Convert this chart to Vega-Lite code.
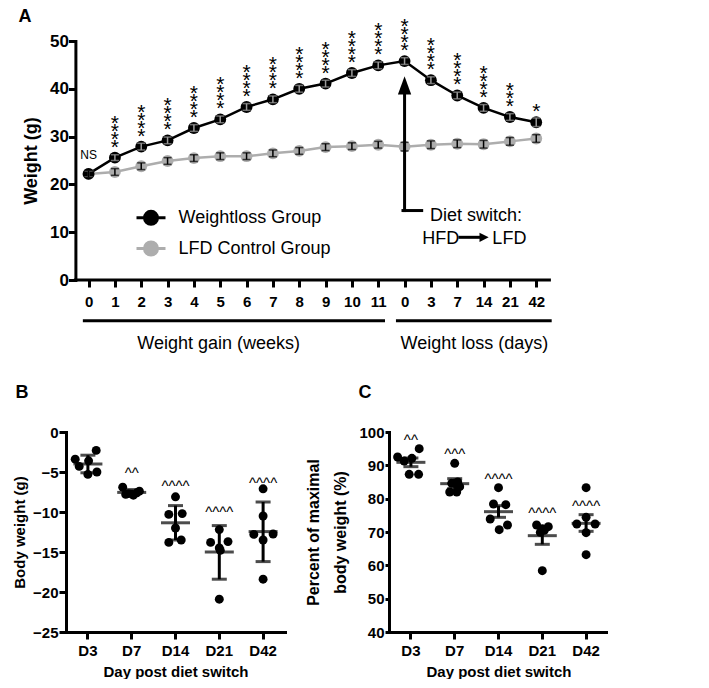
{
  "$schema": "https://vega.github.io/schema/vega-lite/v6.json",
  "background": "white",
  "padding": {"left": 12, "top": 8, "right": 0, "bottom": 0},
  "config": {
    "font": "Liberation Sans",
    "view": {"stroke": null},
    "axis": {"domainColor": "black", "domainWidth": 3, "domainCap": "square", "tickColor": "black", "tickWidth": 3, "tickSize": 7, "labelColor": "black", "titleColor": "black", "labelFont": "Liberation Sans", "titleFont": "Liberation Sans", "labelFontWeight": "bold", "titleFontWeight": "bold", "grid": false, "labelOverlap": false, "labelFlush": false},
    "title": {"font": "Liberation Sans", "fontSize": 18, "fontWeight": "bold", "anchor": "start", "frame": "group", "color": "black", "offset": 0},
    "text": {"font": "Liberation Sans", "color": "black"}
  },
  "datasets": {
    "weights": [
      {"group": "LFD Control Group", "t": 0, "w": 22.2, "lo": 21.5, "hi": 22.9},
      {"group": "LFD Control Group", "t": 1, "w": 22.6, "lo": 21.9, "hi": 23.3},
      {"group": "LFD Control Group", "t": 2, "w": 23.8, "lo": 23.1, "hi": 24.5},
      {"group": "LFD Control Group", "t": 3, "w": 24.9, "lo": 24.2, "hi": 25.6},
      {"group": "LFD Control Group", "t": 4, "w": 25.5, "lo": 24.8, "hi": 26.2},
      {"group": "LFD Control Group", "t": 5, "w": 25.9, "lo": 25.2, "hi": 26.6},
      {"group": "LFD Control Group", "t": 6, "w": 25.9, "lo": 25.2, "hi": 26.6},
      {"group": "LFD Control Group", "t": 7, "w": 26.5, "lo": 25.8, "hi": 27.2},
      {"group": "LFD Control Group", "t": 8, "w": 27.0, "lo": 26.3, "hi": 27.7},
      {"group": "LFD Control Group", "t": 9, "w": 27.8, "lo": 27.1, "hi": 28.5},
      {"group": "LFD Control Group", "t": 10, "w": 28.0, "lo": 27.3, "hi": 28.7},
      {"group": "LFD Control Group", "t": 11, "w": 28.3, "lo": 27.6, "hi": 29.0},
      {"group": "LFD Control Group", "t": 12, "w": 27.9, "lo": 27.0, "hi": 28.8},
      {"group": "LFD Control Group", "t": 13, "w": 28.3, "lo": 27.5, "hi": 29.1},
      {"group": "LFD Control Group", "t": 14, "w": 28.5, "lo": 27.7, "hi": 29.3},
      {"group": "LFD Control Group", "t": 15, "w": 28.4, "lo": 27.6, "hi": 29.2},
      {"group": "LFD Control Group", "t": 16, "w": 29.0, "lo": 28.2, "hi": 29.8},
      {"group": "LFD Control Group", "t": 17, "w": 29.6, "lo": 28.8, "hi": 30.4},
      {"group": "Weightloss Group", "t": 0, "w": 22.2, "lo": 21.6, "hi": 22.8, "sig": "NS"},
      {"group": "Weightloss Group", "t": 1, "w": 25.6, "lo": 25.0, "hi": 26.2, "sig": "*\n*\n*\n*"},
      {"group": "Weightloss Group", "t": 2, "w": 27.9, "lo": 27.2, "hi": 28.6, "sig": "*\n*\n*\n*"},
      {"group": "Weightloss Group", "t": 3, "w": 29.2, "lo": 28.5, "hi": 29.9, "sig": "*\n*\n*\n*"},
      {"group": "Weightloss Group", "t": 4, "w": 31.8, "lo": 31.1, "hi": 32.5, "sig": "*\n*\n*\n*"},
      {"group": "Weightloss Group", "t": 5, "w": 33.6, "lo": 32.9, "hi": 34.3, "sig": "*\n*\n*\n*"},
      {"group": "Weightloss Group", "t": 6, "w": 36.2, "lo": 35.5, "hi": 36.9, "sig": "*\n*\n*\n*"},
      {"group": "Weightloss Group", "t": 7, "w": 37.8, "lo": 37.1, "hi": 38.5, "sig": "*\n*\n*\n*"},
      {"group": "Weightloss Group", "t": 8, "w": 40.0, "lo": 39.3, "hi": 40.7, "sig": "*\n*\n*\n*"},
      {"group": "Weightloss Group", "t": 9, "w": 41.1, "lo": 40.4, "hi": 41.8, "sig": "*\n*\n*\n*"},
      {"group": "Weightloss Group", "t": 10, "w": 43.3, "lo": 42.6, "hi": 44.0, "sig": "*\n*\n*\n*"},
      {"group": "Weightloss Group", "t": 11, "w": 44.9, "lo": 44.2, "hi": 45.6, "sig": "*\n*\n*\n*"},
      {"group": "Weightloss Group", "t": 12, "w": 45.8, "lo": 45.1, "hi": 46.5, "sig": "*\n*\n*\n*"},
      {"group": "Weightloss Group", "t": 13, "w": 41.8, "lo": 41.1, "hi": 42.5, "sig": "*\n*\n*\n*"},
      {"group": "Weightloss Group", "t": 14, "w": 38.6, "lo": 37.9, "hi": 39.3, "sig": "*\n*\n*\n*"},
      {"group": "Weightloss Group", "t": 15, "w": 36.0, "lo": 35.3, "hi": 36.7, "sig": "*\n*\n*\n*"},
      {"group": "Weightloss Group", "t": 16, "w": 34.1, "lo": 33.4, "hi": 34.8, "sig": "*\n*\n*"},
      {"group": "Weightloss Group", "t": 17, "w": 33.0, "lo": 32.1, "hi": 33.9, "sig": "*"}
    ],
    "segs": [
      {"t": -0.5, "t2": 17.5, "w": 0, "w2": 0},
      {"t": 12, "t2": 12, "w": 14.53, "w2": 39.5},
      {"t": 11.94, "t2": 12.65, "w": 14.53, "w2": 14.53},
      {"t": 14.1, "t2": 14.9, "w": 8.93, "w2": 8.93},
      {"t": -0.16, "t2": 11.2, "w": -8.53, "w2": -8.53},
      {"t": 11.73, "t2": 17.53, "w": -8.53, "w2": -8.53}
    ],
    "heads": [
      {"t": 12, "w": 40.7, "dir": "up"},
      {"t": 15.02, "w": 8.93, "dir": "right"}
    ],
    "notes": [
      {"t": 14.71, "w": 12.43, "label": "Diet switch:"},
      {"t": 13.37, "w": 7.55, "label": "HFD"},
      {"t": 15.98, "w": 7.55, "label": "LFD"},
      {"t": 4.94, "w": -14.34, "label": "Weight gain (weeks)"},
      {"t": 14.65, "w": -14.34, "label": "Weight loss (days)"}
    ],
    "bodyB": [
      {"day": "D3", "v": -3.4, "off": -1.27}, {"day": "D3", "v": -4.3, "off": -0.87}, {"day": "D3", "v": -3.6, "off": 0.07},
      {"day": "D3", "v": -2.3, "off": 0.83}, {"day": "D3", "v": -5.3, "off": 0}, {"day": "D3", "v": -5.0, "off": 0.9},
      {"day": "D7", "v": -6.9, "off": -0.9}, {"day": "D7", "v": -7.7, "off": -0.33}, {"day": "D7", "v": -7.9, "off": 0.17},
      {"day": "D7", "v": -7.4, "off": 0.77}, {"day": "D7", "v": -7.6, "off": 0.5}, {"day": "D7", "v": -7.8, "off": -0.6},
      {"day": "D14", "v": -8.1, "off": 0}, {"day": "D14", "v": -10.3, "off": -0.67}, {"day": "D14", "v": -10.2, "off": 0.67},
      {"day": "D14", "v": -12.0, "off": 0}, {"day": "D14", "v": -13.8, "off": -0.67}, {"day": "D14", "v": -13.5, "off": 0.57},
      {"day": "D21", "v": -12.2, "off": 0}, {"day": "D21", "v": -13.8, "off": -0.87}, {"day": "D21", "v": -13.7, "off": 0.87},
      {"day": "D21", "v": -14.5, "off": 0}, {"day": "D21", "v": -14.8, "off": 0.1}, {"day": "D21", "v": -20.9, "off": 0},
      {"day": "D42", "v": -7.1, "off": 0}, {"day": "D42", "v": -10.5, "off": 0}, {"day": "D42", "v": -12.8, "off": -0.93},
      {"day": "D42", "v": -13.5, "off": 0}, {"day": "D42", "v": -12.75, "off": 1.0}, {"day": "D42", "v": -18.4, "off": 0}
    ],
    "sumB": [
      {"day": "D3", "mean": -4.0, "lo": -5.1, "hi": -2.9},
      {"day": "D7", "mean": -7.55, "lo": -7.9, "hi": -7.2},
      {"day": "D14", "mean": -11.35, "lo": -13.5, "hi": -9.2},
      {"day": "D21", "mean": -15.0, "lo": -18.4, "hi": -11.7},
      {"day": "D42", "mean": -12.45, "lo": -16.2, "hi": -8.75}
    ],
    "capB": [
      {"day": "D7", "v": -4.8, "text": "^^"},
      {"day": "D14", "v": -6.4, "text": "^^^^"},
      {"day": "D21", "v": -9.6, "text": "^^^^"},
      {"day": "D42", "v": -6.0, "text": "^^^^"}
    ],
    "pctC": [
      {"day": "D3", "v": 92.5, "off": -1.33}, {"day": "D3", "v": 91.3, "off": -0.67}, {"day": "D3", "v": 92.1, "off": 0.1},
      {"day": "D3", "v": 95.0, "off": 0.83}, {"day": "D3", "v": 87.3, "off": -0.17}, {"day": "D3", "v": 87.3, "off": 0.77},
      {"day": "D7", "v": 90.6, "off": 0}, {"day": "D7", "v": 85.0, "off": 0.3}, {"day": "D7", "v": 84.6, "off": -0.3},
      {"day": "D7", "v": 83.6, "off": 0.5}, {"day": "D7", "v": 82.0, "off": -0.5}, {"day": "D7", "v": 82.0, "off": 0.2},
      {"day": "D14", "v": 83.3, "off": 0}, {"day": "D14", "v": 78.4, "off": -0.5}, {"day": "D14", "v": 78.2, "off": 0.73},
      {"day": "D14", "v": 73.9, "off": -0.83}, {"day": "D14", "v": 72.1, "off": 0.9}, {"day": "D14", "v": 70.7, "off": 0.07},
      {"day": "D21", "v": 72.1, "off": -0.57}, {"day": "D21", "v": 71.6, "off": 0.6}, {"day": "D21", "v": 71.0, "off": 0},
      {"day": "D21", "v": 70.5, "off": 0.2}, {"day": "D21", "v": 69.9, "off": -0.2}, {"day": "D21", "v": 58.4, "off": 0},
      {"day": "D42", "v": 83.3, "off": 0}, {"day": "D42", "v": 74.4, "off": 0}, {"day": "D42", "v": 72.4, "off": -0.93},
      {"day": "D42", "v": 72.4, "off": 0.9}, {"day": "D42", "v": 69.8, "off": 0}, {"day": "D42", "v": 63.2, "off": 0}
    ],
    "sumC": [
      {"day": "D3", "mean": 90.9, "lo": 89.6, "hi": 92.2},
      {"day": "D7", "mean": 84.5, "lo": 83.0, "hi": 86.0},
      {"day": "D14", "mean": 76.1, "lo": 74.4, "hi": 77.9},
      {"day": "D21", "mean": 68.9, "lo": 66.3, "hi": 71.5},
      {"day": "D42", "mean": 72.6, "lo": 70.2, "hi": 75.2}
    ],
    "capC": [
      {"day": "D3", "v": 98.6, "text": "^^"},
      {"day": "D7", "v": 94.3, "text": "^^^"},
      {"day": "D14", "v": 86.8, "text": "^^^^"},
      {"day": "D21", "v": 76.7, "text": "^^^^"},
      {"day": "D42", "v": 78.7, "text": "^^^^"}
    ]
  },
  "spacing": 152,
  "bounds": "flush",
  "vconcat": [
    {
      "width": 483.4,
      "height": 239,
      "title": {"text": "A", "dx": -47.4, "dy": 14},
      "data": {"name": "weights"},
      "layer": [
        {
          "mark": {"type": "line", "strokeWidth": 2.5},
          "encoding": {
            "x": {"field": "t", "type": "quantitative", "scale": {"domain": [-0.857, 17.5], "nice": false, "zero": false},
                  "axis": {"values": [0,1,2,3,4,5,6,7,8,9,10,11,12,13,14,15,16,17], "tickCount": 18, "labelExpr": "['0','1','2','3','4','5','6','7','8','9','10','11','0','3','7','14','21','42'][datum.value]", "title": null, "labelFontSize": 15, "labelPadding": 7, "labelFlush": false, "labelOverlap": false, "domain": false}},
            "y": {"field": "w", "type": "quantitative", "title": "Weight (g)", "scale": {"domain": [0, 50], "nice": false},
                  "axis": {"values": [0,10,20,30,40,50], "title": "Weight (g)", "labelFontSize": 17, "titleFontSize": 18, "labelPadding": 0, "titlePadding": 9, "offset": -9.4, "labelOverlap": false}},
            "color": {"field": "group", "type": "nominal", "scale": {"domain": ["Weightloss Group", "LFD Control Group"], "range": ["#000000", "#adadad"]},
                      "legend": {"orient": "none", "legendX": 69, "legendY": 160.8, "title": null, "padding": 0, "symbolType": "M-1,0H1M0.45,0A0.45,0.45,0,1,1,-0.45,0A0.45,0.45,0,1,1,0.45,0Z", "symbolSize": 841, "symbolStrokeWidth": 3, "labelFontSize": 18, "labelFont": "Liberation Sans", "labelColor": "black", "labelOffset": 11.5, "rowPadding": 1.7, "labelFontWeight": "normal", "symbolOpacity": 1,
                                 "encode": {"symbols": {"update": {"fill": {"scale": "color", "field": "value"}, "stroke": {"scale": "color", "field": "value"}}}}}}
          }
        },
        {
          "mark": {"type": "point", "filled": true, "size": 140, "opacity": 1},
          "encoding": {
            "x": {"field": "t", "type": "quantitative", "scale": {"domain": [-0.857, 17.5], "nice": false, "zero": false},
                  "axis": {"values": [0,1,2,3,4,5,6,7,8,9,10,11,12,13,14,15,16,17], "tickCount": 18, "labelExpr": "['0','1','2','3','4','5','6','7','8','9','10','11','0','3','7','14','21','42'][datum.value]", "title": null, "labelFontSize": 15, "labelPadding": 7, "labelFlush": false, "labelOverlap": false, "domain": false}},
            "y": {"field": "w", "type": "quantitative", "title": "Weight (g)", "scale": {"domain": [0, 50], "nice": false},
                  "axis": {"values": [0,10,20,30,40,50], "title": "Weight (g)", "labelFontSize": 17, "titleFontSize": 18, "labelPadding": 0, "titlePadding": 9, "offset": -9.4, "labelOverlap": false}},
            "color": {"field": "group", "type": "nominal", "scale": {"domain": ["Weightloss Group", "LFD Control Group"], "range": ["#000000", "#adadad"]},
                      "legend": {"orient": "none", "legendX": 69, "legendY": 160.8, "title": null, "padding": 0, "symbolType": "M-1,0H1M0.45,0A0.45,0.45,0,1,1,-0.45,0A0.45,0.45,0,1,1,0.45,0Z", "symbolSize": 841, "symbolStrokeWidth": 3, "labelFontSize": 18, "labelFont": "Liberation Sans", "labelColor": "black", "labelOffset": 11.5, "rowPadding": 1.7, "labelFontWeight": "normal", "symbolOpacity": 1,
                                 "encode": {"symbols": {"update": {"fill": {"scale": "color", "field": "value"}, "stroke": {"scale": "color", "field": "value"}}}}}}
          }
        },
        {
          "transform": [{"filter": "datum.group === 'Weightloss Group'"}],
          "mark": {"type": "errorbar", "color": "#9a9a9a", "thickness": 1.5, "ticks": {"size": 8, "thickness": 1.5}},
          "encoding": {
            "x": {"field": "t", "type": "quantitative", "scale": {"domain": [-0.857, 17.5], "nice": false, "zero": false},
                  "axis": {"values": [0,1,2,3,4,5,6,7,8,9,10,11,12,13,14,15,16,17], "tickCount": 18, "labelExpr": "['0','1','2','3','4','5','6','7','8','9','10','11','0','3','7','14','21','42'][datum.value]", "title": null, "labelFontSize": 15, "labelPadding": 7, "labelFlush": false, "labelOverlap": false, "domain": false}},
            "y": {"field": "lo", "type": "quantitative", "title": "Weight (g)", "scale": {"domain": [0, 50], "nice": false},
                  "axis": {"values": [0,10,20,30,40,50], "title": "Weight (g)", "labelFontSize": 17, "titleFontSize": 18, "labelPadding": 0, "titlePadding": 9, "offset": -9.4, "labelOverlap": false}},
            "y2": {"field": "hi"}
          }
        },
        {
          "transform": [{"filter": "datum.group === 'LFD Control Group'"}],
          "mark": {"type": "errorbar", "color": "#000000", "thickness": 1.5, "ticks": {"size": 8, "thickness": 1.5}},
          "encoding": {
            "x": {"field": "t", "type": "quantitative", "scale": {"domain": [-0.857, 17.5], "nice": false, "zero": false},
                  "axis": {"values": [0,1,2,3,4,5,6,7,8,9,10,11,12,13,14,15,16,17], "tickCount": 18, "labelExpr": "['0','1','2','3','4','5','6','7','8','9','10','11','0','3','7','14','21','42'][datum.value]", "title": null, "labelFontSize": 15, "labelPadding": 7, "labelFlush": false, "labelOverlap": false, "domain": false}},
            "y": {"field": "lo", "type": "quantitative", "title": "Weight (g)", "scale": {"domain": [0, 50], "nice": false},
                  "axis": {"values": [0,10,20,30,40,50], "title": "Weight (g)", "labelFontSize": 17, "titleFontSize": 18, "labelPadding": 0, "titlePadding": 9, "offset": -9.4, "labelOverlap": false}},
            "y2": {"field": "hi"}
          }
        },
        {
          "transform": [{"filter": "datum.sig === '*\\n*\\n*\\n*'"}],
          "mark": {"type": "text", "fontSize": 21, "baseline": "bottom", "lineBreak": "\n", "lineHeight": 8, "dy": -24},
          "encoding": {
            "x": {"field": "t", "type": "quantitative"},
            "y": {"field": "w", "type": "quantitative", "title": "Weight (g)"},
            "text": {"field": "sig"}
          }
        },
        {
          "transform": [{"filter": "datum.sig === '*\\n*\\n*'"}],
          "mark": {"type": "text", "fontSize": 21, "baseline": "bottom", "lineBreak": "\n", "lineHeight": 8, "dy": -16},
          "encoding": {
            "x": {"field": "t", "type": "quantitative"},
            "y": {"field": "w", "type": "quantitative", "title": "Weight (g)"},
            "text": {"field": "sig"}
          }
        },
        {
          "transform": [{"filter": "datum.sig === '*'"}],
          "mark": {"type": "text", "fontSize": 21, "baseline": "bottom", "dy": 0},
          "encoding": {
            "x": {"field": "t", "type": "quantitative"},
            "y": {"field": "w", "type": "quantitative", "title": "Weight (g)"},
            "text": {"field": "sig"}
          }
        },
        {
          "transform": [{"filter": "datum.sig === 'NS'"}],
          "mark": {"type": "text", "fontSize": 12, "baseline": "middle", "dy": -19},
          "encoding": {
            "x": {"field": "t", "type": "quantitative"},
            "y": {"field": "w", "type": "quantitative", "title": "Weight (g)"},
            "text": {"field": "sig"}
          }
        },
        {
          "data": {"name": "segs"},
          "mark": {"type": "rule", "strokeWidth": 3, "color": "black", "strokeCap": "square"},
          "encoding": {
            "x": {"field": "t", "type": "quantitative"},
            "x2": {"field": "t2"},
            "y": {"field": "w", "type": "quantitative", "title": "Weight (g)"},
            "y2": {"field": "w2"}
          }
        },
        {
          "data": {"name": "heads"},
          "mark": {"type": "point", "filled": true, "size": 335, "color": "black", "opacity": 1, "strokeWidth": 0},
          "encoding": {
            "x": {"field": "t", "type": "quantitative"},
            "y": {"field": "w", "type": "quantitative", "title": "Weight (g)"},
            "shape": {"field": "dir", "type": "nominal", "scale": {"domain": ["up", "right"], "range": ["M0,-1L0.727,1L-0.727,1Z", "M0.5,0L-0.5,-0.5L-0.5,0.5Z"]}, "legend": null}
          }
        },
        {
          "data": {"name": "notes"},
          "mark": {"type": "text", "fontSize": 18, "align": "center", "baseline": "alphabetic"},
          "encoding": {
            "x": {"field": "t", "type": "quantitative"},
            "y": {"field": "w", "type": "quantitative", "title": "Weight (g)"},
            "text": {"field": "label"}
          }
        }
      ]
    },
    {
      "spacing": 104,
      "bounds": "flush",
      "hconcat": [
        {
          "width": 219,
          "height": 200,
          "title": {"text": "B", "dx": -50.4, "dy": -19},
          "layer": [
            {
              "data": {"name": "bodyB"},
              "mark": {"type": "point", "filled": true, "size": 80, "color": "black", "opacity": 1},
              "encoding": {
                "x": {"field": "day", "type": "nominal", "sort": ["D3", "D7", "D14", "D21", "D42"], "scale": {"type": "band", "paddingInner": 0, "paddingOuter": 0},
                      "axis": {"title": "Day post diet switch", "labelAngle": 0, "labelFontSize": 15, "titleFontSize": 15, "labelPadding": 4, "titlePadding": 6}},
                "xOffset": {"field": "off", "type": "quantitative", "scale": {"domain": [-2.19, 2.19], "nice": false, "zero": false}},
                "y": {"field": "v", "type": "quantitative", "title": "Body weight (g)", "scale": {"domain": [-25, 0], "nice": false},
                      "axis": {"values": [-25, -20, -15, -10, -5, 0], "tickCount": 6, "title": "Body weight (g)", "labelFontSize": 15, "titleFontSize": 15, "labelPadding": 1, "titlePadding": 5.5, "labelOverlap": false}}
              }
            },
            {
              "data": {"name": "sumB"},
              "mark": {"type": "tick", "size": 29, "thickness": 3, "color": "black", "orient": "horizontal"},
              "encoding": {
                "x": {"field": "day", "type": "nominal", "sort": ["D3", "D7", "D14", "D21", "D42"], "title": "Day post diet switch"},
                "y": {"field": "mean", "type": "quantitative", "title": "Body weight (g)"}
              }
            },
            {
              "data": {"name": "sumB"},
              "mark": {"type": "errorbar", "color": "black", "thickness": 3, "ticks": {"size": 15, "thickness": 3}},
              "encoding": {
                "x": {"field": "day", "type": "nominal", "sort": ["D3", "D7", "D14", "D21", "D42"], "title": "Day post diet switch"},
                "y": {"field": "lo", "type": "quantitative", "title": "Body weight (g)", "scale": {"domain": [-25, 0], "nice": false},
                      "axis": {"values": [-25, -20, -15, -10, -5, 0], "tickCount": 6, "title": "Body weight (g)", "labelFontSize": 15, "titleFontSize": 15, "labelPadding": 1, "titlePadding": 5.5, "labelOverlap": false}},
                "y2": {"field": "hi"}
              }
            },
            {
              "data": {"name": "capB"},
              "mark": {"type": "text", "fontSize": 15, "baseline": "middle", "dy": 3},
              "encoding": {
                "x": {"field": "day", "type": "nominal", "sort": ["D3", "D7", "D14", "D21", "D42"], "title": "Day post diet switch"},
                "y": {"field": "v", "type": "quantitative", "title": "Body weight (g)"},
                "text": {"field": "text"}
              }
            }
          ]
        },
        {
          "width": 219,
          "height": 200,
          "title": {"text": "C", "dx": -30.5, "dy": -19},
          "layer": [
            {
              "data": {"name": "pctC"},
              "mark": {"type": "point", "filled": true, "size": 80, "color": "black", "opacity": 1},
              "encoding": {
                "x": {"field": "day", "type": "nominal", "sort": ["D3", "D7", "D14", "D21", "D42"], "scale": {"type": "band", "paddingInner": 0, "paddingOuter": 0},
                      "axis": {"title": "Day post diet switch", "labelAngle": 0, "labelFontSize": 15, "titleFontSize": 15, "labelPadding": 4, "titlePadding": 6}},
                "xOffset": {"field": "off", "type": "quantitative", "scale": {"domain": [-2.19, 2.19], "nice": false, "zero": false}},
                "y": {"field": "v", "type": "quantitative", "title": ["Percent of maximal", "body weight (%)"], "scale": {"domain": [40, 100], "nice": false, "zero": false},
                      "axis": {"values": [40, 50, 60, 70, 80, 90, 100], "tickCount": 7, "title": ["Percent of maximal", "body weight (%)"], "labelFontSize": 15, "titleFontSize": 16, "titleLineHeight": 27, "tickSize": 4, "labelPadding": 1, "titlePadding": 10, "labelOverlap": false}}
              }
            },
            {
              "data": {"name": "sumC"},
              "mark": {"type": "tick", "size": 29, "thickness": 3, "color": "black", "orient": "horizontal"},
              "encoding": {
                "x": {"field": "day", "type": "nominal", "sort": ["D3", "D7", "D14", "D21", "D42"], "title": "Day post diet switch"},
                "y": {"field": "mean", "type": "quantitative", "title": ["Percent of maximal", "body weight (%)"]}
              }
            },
            {
              "data": {"name": "sumC"},
              "mark": {"type": "errorbar", "color": "black", "thickness": 3, "ticks": {"size": 15, "thickness": 3}},
              "encoding": {
                "x": {"field": "day", "type": "nominal", "sort": ["D3", "D7", "D14", "D21", "D42"], "title": "Day post diet switch"},
                "y": {"field": "lo", "type": "quantitative", "title": ["Percent of maximal", "body weight (%)"], "scale": {"domain": [40, 100], "nice": false, "zero": false},
                      "axis": {"values": [40, 50, 60, 70, 80, 90, 100], "tickCount": 7, "title": ["Percent of maximal", "body weight (%)"], "labelFontSize": 15, "titleFontSize": 16, "titleLineHeight": 27, "tickSize": 4, "labelPadding": 1, "titlePadding": 10, "labelOverlap": false}},
                "y2": {"field": "hi"}
              }
            },
            {
              "data": {"name": "capC"},
              "mark": {"type": "text", "fontSize": 15, "baseline": "middle", "dy": 3},
              "encoding": {
                "x": {"field": "day", "type": "nominal", "sort": ["D3", "D7", "D14", "D21", "D42"], "title": "Day post diet switch"},
                "y": {"field": "v", "type": "quantitative", "title": ["Percent of maximal", "body weight (%)"]},
                "text": {"field": "text"}
              }
            }
          ]
        }
      ]
    }
  ]
}
